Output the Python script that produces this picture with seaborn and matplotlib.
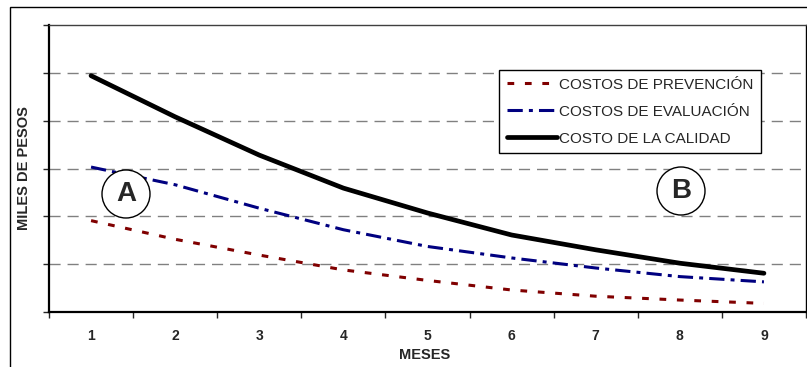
import matplotlib
matplotlib.use("Agg")
import matplotlib.pyplot as plt
import seaborn as sns
import pandas as pd
from matplotlib.patches import Rectangle, Circle

meses = [1, 2, 3, 4, 5, 6, 7, 8, 9]
costos_prevencion = [1.91, 1.52, 1.19, 0.88, 0.66, 0.46, 0.33, 0.25, 0.18]
costos_evaluacion = [3.03, 2.66, 2.17, 1.72, 1.37, 1.13, 0.92, 0.74, 0.63]
costo_calidad = [4.94, 4.08, 3.28, 2.59, 2.07, 1.61, 1.30, 1.02, 0.81]
labels = ["COSTOS DE PREVENCIÓN", "COSTOS DE EVALUACIÓN", "COSTO DE LA CALIDAD"]

sns.set_theme(style="white")
plt.rcParams['font.family'] = ['Liberation Sans', 'DejaVu Sans']

fig = plt.figure(figsize=(8.07, 3.67), dpi=100)
ax = fig.add_axes([49/807, 55/367, 757/807, 287/367])

# outer frame
fig.patches.append(Rectangle((10/807, -0.05), 1.0, (367-7)/367 + 0.05,
                             transform=fig.transFigure, fill=False,
                             edgecolor='black', linewidth=1.0, zorder=0))

df = pd.DataFrame({"mes": meses, "prev": costos_prevencion,
                   "eval": costos_evaluacion, "cal": costo_calidad})

for y in [1, 2, 3, 4, 5]:
    ax.axhline(y, color='#808080', linewidth=1.0, linestyle=(0, (8, 5)), zorder=1)

sns.lineplot(data=df, x="mes", y="prev", ax=ax, color='#800000', linewidth=2.2,
             label=labels[0], zorder=3)
sns.lineplot(data=df, x="mes", y="eval", ax=ax, color='#000080', linewidth=2.2,
             label=labels[1], zorder=3)
sns.lineplot(data=df, x="mes", y="cal", ax=ax, color='black', linewidth=3.4,
             label=labels[2], zorder=4)
lines = ax.get_lines()[-3:]
lines[0].set_linestyle((0, (2.2, 3.5)))
lines[1].set_linestyle((0, (5, 2, 1.3, 2)))

ax.set_xlim(0.5, 9.5)
ax.set_ylim(0, 6)
ax.set_xticks([i + 0.5 for i in range(0, 10)])
ax.set_xticklabels([])
ax.set_xticks(meses, minor=True)
ax.set_xticklabels([str(m) for m in meses], minor=True, fontweight='bold', fontsize=10)
ax.tick_params(axis='x', which='minor', length=0, pad=12)
ax.tick_params(axis='x', which='major', length=4, width=1, direction='out', bottom=True)
ax.set_yticks(range(0, 7))
ax.set_yticklabels([])
ax.tick_params(axis='y', which='major', length=4, width=1, direction='out', left=True)

for s in ax.spines.values():
    s.set_color('black')
ax.spines['left'].set_linewidth(1.6)
ax.spines['bottom'].set_linewidth(1.6)
ax.spines['top'].set_linewidth(1.0)
ax.spines['right'].set_linewidth(1.0)
ax.spines['top'].set_color('#404040')

ax.set_xlabel("MESES", fontweight='bold', fontsize=10.5)
ax.set_ylabel("MILES DE PESOS", fontweight='bold', fontsize=10.5)
ax.xaxis.set_label_coords((425-49)/757, -(355-312)/287)
ax.yaxis.set_label_coords(-(49-24)/757, 0.5)
ax.xaxis.label.set_va('center')
ax.yaxis.label.set_va('center')

# circled letters
for (cx, cy, t) in [(126, 194, "A"), (681, 191, "B")]:
    fig.patches.append(Circle((cx, 367 - cy), 24, transform=None, fill=True,
                              facecolor='white', edgecolor='black', linewidth=1.0,
                              zorder=5))
    fig.text(cx/807, (367 - cy)/367, t, ha='center', va='center',
             fontsize=20, fontweight='bold', zorder=6)

leg = ax.legend(loc='upper left', bbox_to_anchor=((499-49)/757, (312-70)/287),
                frameon=True, fancybox=False, shadow=False, fontsize=11,
                handlelength=3.3, handletextpad=0.15, borderpad=0.5,
                labelspacing=0.85, borderaxespad=0)
leg.get_frame().set_edgecolor('black')
leg.get_frame().set_linewidth(1.0)
leg.get_frame().set_alpha(1)

fig.savefig("out.png", dpi=100)
